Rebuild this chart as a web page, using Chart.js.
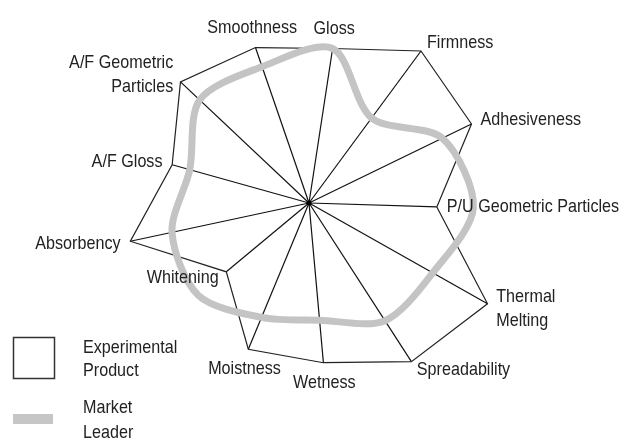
<!DOCTYPE html>
<html>
<head>
<meta charset="utf-8">
<script src="https://cdn.jsdelivr.net/npm/chart.js@4/dist/chart.umd.min.js"></script>
<style>
  html, body { margin: 0; padding: 0; background: #fff; }
  #wrap { width: 626px; height: 444px; position: relative; }
</style>
</head>
<body>
<div id="wrap"><canvas id="radar" width="626" height="444"></canvas></div>
<script>
// Attributes, clockwise from the top
const attributes = [
  "Smoothness", "Gloss", "Firmness", "Adhesiveness", "P/U Geometric Particles",
  ["Thermal", "Melting"], "Spreadability", "Wetness", "Moistness", "Whitening",
  "Absorbency", "A/F Gloss", ["A/F Geometric", "Particles"]
];

// Scores (0-10 scale)
const experimental = [8.1, 7.7, 9.3, 8.9, 6.3, 10.1, 9.3, 7.9, 7.8, 5.3, 9.0, 7.0, 8.7];
const marketLeader = [7.1, 7.7, 5.2, 7.3, 8.1, 7.0, 6.9, 5.8, 6.1, 7.1, 6.9, 6.1, 7.4];

const seriesNames = [["Experimental", "Product"], ["Market", "Leader"]];

const FONT = "19px 'Liberation Sans', Arial, sans-serif";
const SQUEEZE = 0.85;
const TEXT_COLOR = "#222";

function squeezedText(ctx, text, x, y, align, baseline) {
  ctx.save();
  ctx.translate(x, y);
  ctx.scale(SQUEEZE, 1);
  ctx.textAlign = align;
  ctx.textBaseline = baseline;
  ctx.fillText(text, 0, 0);
  ctx.restore();
}

// spokes from the centre out to each experimental vertex
const spokes = {
  id: "spokes",
  beforeDatasetsDraw(chart) {
    const scale = chart.scales.r;
    const ctx = chart.ctx;
    ctx.save();
    ctx.strokeStyle = "#111";
    ctx.lineWidth = 1.2;
    experimental.forEach((v, i) => {
      const p = scale.getPointPosition(i, scale.getDistanceFromCenterForValue(v));
      ctx.beginPath();
      ctx.moveTo(scale.xCenter, scale.yCenter);
      ctx.lineTo(p.x, p.y);
      ctx.stroke();
    });
    ctx.fillStyle = "#000";
    ctx.beginPath();
    ctx.arc(scale.xCenter, scale.yCenter, 2.5, 0, Math.PI * 2);
    ctx.fill();
    ctx.restore();
  }
};

// attribute names next to each vertex, plus the legend
const labelsAndLegend = {
  id: "labelsAndLegend",
  afterDraw(chart) {
    const scale = chart.scales.r;
    const ctx = chart.ctx;
    ctx.save();
    ctx.font = FONT;
    ctx.fillStyle = TEXT_COLOR;
    const lh = 24;
    attributes.forEach((name, i) => {
      const lines = Array.isArray(name) ? name : [name];
      const d = scale.getDistanceFromCenterForValue(experimental[i]) + 10;
      const p = scale.getPointPosition(i, d);
      let deg = (scale.getIndexAngle(i) * 180 / Math.PI) % 360;
      if (deg < 0) deg += 360;
      let align = "center";
      if (deg > 25 && deg < 155) align = "left";
      else if (deg > 205 && deg < 335) align = "right";
      let y0;
      if (deg <= 25 || deg >= 335) y0 = p.y - (lines.length - 1) * lh - 10;
      else if (deg >= 155 && deg <= 205) y0 = p.y + 10;
      else y0 = p.y - (lines.length - 1) * lh / 2;
      lines.forEach((t, k) => squeezedText(ctx, t, p.x, y0 + k * lh, align, "middle"));
    });

    // legend
    ctx.strokeStyle = "#333";
    ctx.lineWidth = 1.5;
    ctx.strokeRect(13.5, 337.5, 41, 41);
    ctx.fillStyle = "#c6c6c6";
    ctx.fillRect(13, 414, 40, 10);
    ctx.fillStyle = TEXT_COLOR;
    squeezedText(ctx, seriesNames[0][0], 83, 348, "left", "middle");
    squeezedText(ctx, seriesNames[0][1], 83, 371, "left", "middle");
    squeezedText(ctx, seriesNames[1][0], 83, 408, "left", "middle");
    squeezedText(ctx, seriesNames[1][1], 83, 433, "left", "middle");
    ctx.restore();
  }
};

new Chart(document.getElementById("radar").getContext("2d"), {
  type: "radar",
  data: {
    labels: attributes,
    datasets: [
      {
        label: "Market Leader",
        data: marketLeader,
        borderColor: "#c4c4c4",
        borderWidth: 7,
        backgroundColor: "rgba(0,0,0,0)",
        fill: false,
        pointRadius: 0,
        tension: 0.3,
        order: 0
      },
      {
        label: "Experimental Product",
        data: experimental,
        borderColor: "#222",
        borderWidth: 1.2,
        backgroundColor: "rgba(0,0,0,0)",
        fill: false,
        pointRadius: 0,
        tension: 0,
        order: 1
      }
    ]
  },
  options: {
    responsive: false,
    animation: false,
    layout: { padding: { left: 105, right: 113, top: 0, bottom: 38 } },
    plugins: { legend: { display: false }, tooltip: { enabled: false } },
    scales: {
      r: {
        min: 0,
        max: 10,
        startAngle: -19,
        grid: { display: false },
        angleLines: { display: false },
        ticks: { display: false },
        pointLabels: { display: false }
      }
    }
  },
  plugins: [spokes, labelsAndLegend]
});
</script>
</body>
</html>
